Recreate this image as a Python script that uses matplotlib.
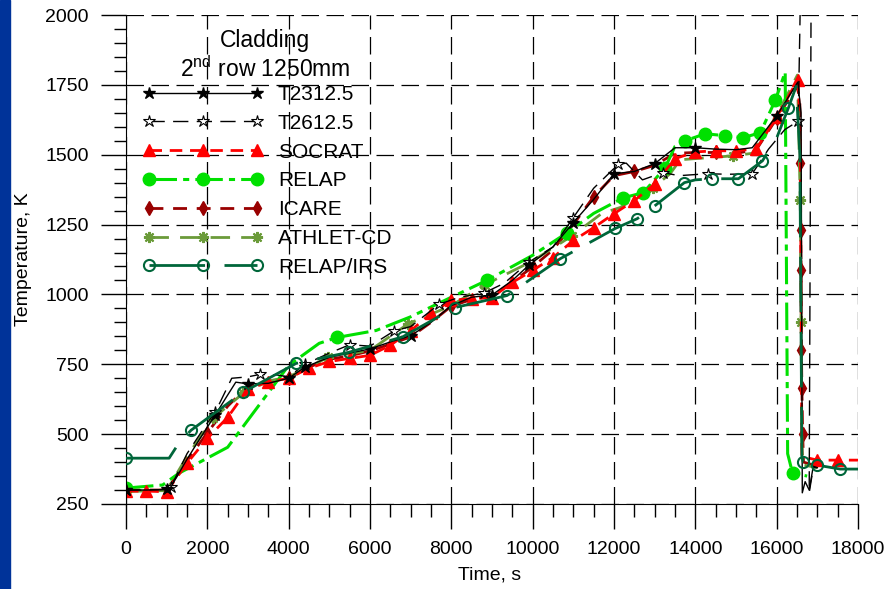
import matplotlib.pyplot as plt
from matplotlib.lines import Line2D
from matplotlib.patches import Rectangle
from matplotlib.ticker import MultipleLocator

plt.rcParams['font.family'] = ['Liberation Sans', 'DejaVu Sans']
plt.rcParams['mathtext.default'] = 'regular'

# ---- data (time in s, temperature in K) ----
t_t2312 = [0, 500, 1000, 1100, 1500, 1800, 2200, 2500, 2700, 3000, 3500, 4000, 4400, 5000, 5500,
           6000, 6500, 7000, 7500, 8000, 8500, 9000, 9500, 9900, 10500, 11000, 11500, 12000, 12500,
           13000, 13500, 14000, 14500, 15000, 15400, 16000, 16520, 16600, 16630, 16700, 16800,
           16900, 17000]
T_t2312 = [300, 300, 302, 310, 410, 480, 570, 640, 686, 680, 682, 700, 740, 775, 790,
           805, 830, 852, 900, 960, 990, 998, 1050, 1104, 1170, 1257, 1340, 1432, 1440,
           1468, 1525, 1525, 1520, 1518, 1525, 1639, 1760, 1650, 290, 330, 300,
           385, 380]
mk_t2312 = [0, 1000, 2200, 3000, 4000, 4400, 6000, 7000, 9000, 9900, 11000, 12000, 13000, 14000, 16000]

t_t2612 = [0, 500, 1000, 1100, 1500, 2000, 2200, 2600, 3000, 3300, 3700, 4000, 4400, 5000, 5500,
           6000, 6600, 7000, 7700, 8200, 8800, 9300, 9900, 10500, 11000, 11500, 12100, 12300,
           12700, 13200, 13600, 14300, 14800, 15400, 15800, 16200, 16530, 16600, 16850, 16800,
           16900, 17000]
T_t2612 = [300, 300, 302, 310, 430, 540, 580, 700, 705, 714, 712, 705, 750, 790, 820,
           815, 870, 885, 965, 990, 1005, 1040, 1115, 1170, 1275, 1380, 1465, 1470,
           1410, 1436, 1425, 1432, 1430, 1432, 1520, 1590, 1620, 2200, 2200, 290,
           380, 380]
mk_t2612 = [0, 1100, 2200, 3300, 4400, 5500, 6600, 7700, 8800, 9900, 11000, 12100, 13200, 14300,
            15400, 16530]

t_socrat = [0, 500, 1000, 1500, 2000, 2500, 3000, 3500, 4000, 4500, 5000, 5500, 6000, 6500, 7000,
            7500, 8000, 8500, 9000, 9500, 10000, 10500, 11000, 11500, 12000, 12500, 13000, 13500,
            14000, 14500, 15000, 15500, 16000, 16520, 16580, 16620, 17000, 17500, 18000]
T_socrat = [296, 296, 294, 396, 485, 560, 662, 687, 700, 736, 760, 771, 782, 818, 870,
            932, 979, 985, 989, 1043, 1086, 1132, 1193, 1239, 1289, 1336, 1395, 1486,
            1510, 1514, 1514, 1521, 1635, 1768, 1600, 420, 407, 407, 407]
mk_socrat = [0, 500, 1000, 1500, 2000, 2500, 3000, 3500, 4000, 4500, 5000, 5500, 6000, 6500, 7000,
             7500, 8000, 8500, 9000, 9500, 10000, 10500, 11000, 11500, 12000, 12500, 13000, 13500,
             14000, 14500, 15000, 15500, 16000, 16520, 17000, 17500]

t_relap = [0, 900, 1300, 2500, 4000, 4750, 5190, 6150, 7000, 8000, 8870, 10000, 10850, 11500,
           12230, 12720, 13260, 13500, 13750, 14240, 14740, 15180, 15600, 15970, 16210, 16270,
           16390, 16750]
T_relap = [307, 318, 360, 453, 746, 825, 846, 871, 920, 990, 1050, 1140, 1221, 1290,
           1346, 1364, 1454, 1530, 1550, 1575, 1568, 1561, 1579, 1696, 1796, 430,
           361, 350]
mk_relap = [0, 5190, 8870, 10850, 12230, 12720, 13260, 13750, 14240, 14740, 15180, 15600, 15970, 16390]

t_icare = [0, 500, 1000, 1500, 2000, 2500, 3000, 3500, 4000, 4500, 5000, 5500, 6000, 6500, 7000,
           7500, 8000, 8500, 9000, 9500, 10000, 10500, 11000, 11500, 12000, 12500, 13000, 13500,
           14000, 14500, 15000, 15500, 16000, 16500, 16570, 16580, 16590, 16600, 16610, 16620,
           16640, 16660, 17000]
T_icare = [300, 300, 300, 405, 505, 600, 672, 685, 700, 740, 768, 780, 798, 822, 848,
           900, 958, 982, 993, 1045, 1098, 1160, 1250, 1350, 1425, 1440, 1462, 1505,
           1508, 1508, 1505, 1518, 1630, 1745, 1700, 1471, 1229, 1086, 800, 664,
           500, 400, 385]
mk_icare = [0, 2000, 4000, 6000, 8000, 10000, 11500, 12500, 14500, 16000, 16580, 16590, 16600,
            16610, 16620, 16640]

t_athlet = [0, 1000, 1500, 2140, 2880, 3500, 4000, 4970, 6000, 6940, 8000, 8830, 10000, 10970,
            11700, 12150, 12960, 13380, 13630, 14930, 15400, 16000, 16510, 16580, 16600, 16620,
            16650, 17000]
T_athlet = [295, 298, 420, 557, 646, 690, 705, 775, 800, 895, 960, 1035, 1120, 1210,
            1290, 1311, 1382, 1432, 1482, 1496, 1505, 1640, 1785, 1339, 900, 460,
            390, 380]
mk_athlet = [0, 2140, 2880, 4970, 6940, 8830, 10970, 12960, 14930, 16580, 16600]

t_irs = [0, 1060, 1300, 1600, 2880, 4180, 5480, 6800, 8090, 9370, 10680, 12030, 12570, 13010,
         13730, 14000, 14420, 15060, 15650, 16000, 16290, 16480, 16570, 16620, 16650, 17000,
         17560, 18000]
T_irs = [414, 414, 468, 514, 650, 753, 793, 848, 953, 996, 1128, 1236, 1271, 1318,
         1400, 1410, 1414, 1414, 1478, 1560, 1668, 1745, 1500, 420, 400, 389,
         375, 375]
mk_irs = [0, 1600, 2880, 4180, 5480, 6800, 8090, 9370, 10680, 12030, 12570, 13010, 13730, 14420,
          15060, 15650, 16290, 16650, 17000, 17560]

labels = ['T2312.5', 'T2612.5', 'SOCRAT', 'RELAP', 'ICARE', 'ATHLET-CD', 'RELAP/IRS']

styles = [
    dict(color='k', lw=1.0, ls='-', marker='*', ms=9, mfc='k', mec='k'),
    dict(color='k', lw=1.0, ls=(0, (11, 6)), marker='*', ms=9, mfc='white', mec='k', mew=0.8),
    dict(color='#ff0000', lw=2.0, ls=(0, (4.5, 2.8)), marker='^', ms=8, mfc='#ff0000', mec='#ff0000'),
    dict(color='#00e000', lw=2.2, ls=(0, (9, 2, 2, 2)), marker='o', ms=9, mfc='#00e000', mec='#00e000'),
    dict(color='#990000', lw=2.0, ls=(0, (5, 3.5)), marker='d', ms=7, mfc='#990000', mec='#990000'),
    dict(color='#6b9b3a', lw=2.0, ls=(0, (7, 4)), marker=(8, 2, 0), ms=8, mfc='#6b9b3a',
         mec='#6b9b3a', mew=1.5),
    dict(color='#00663a', lw=2.0, ls=(0, (20, 7)), marker='o', ms=8, mfc='none', mec='#00663a',
         mew=1.5),
]
zorders = [2.6, 2.5, 2.4, 2.3, 2.0, 2.2, 2.7]

series = [
    (t_t2312, T_t2312, mk_t2312),
    (t_t2612, T_t2612, mk_t2612),
    (t_socrat, T_socrat, mk_socrat),
    (t_relap, T_relap, mk_relap),
    (t_icare, T_icare, mk_icare),
    (t_athlet, T_athlet, mk_athlet),
    (t_irs, T_irs, mk_irs),
]

fig = plt.figure(figsize=(8.88, 5.89), dpi=100)
fig.patches.append(Rectangle((0, 0), 10 / 888, 1, transform=fig.transFigure,
                             color='#003399', zorder=0))
ax = fig.add_axes([126 / 888, 1 - 504 / 589, 732 / 888, 489 / 589])

handles = []
for (t, T, mk), st, lab, z in zip(series, styles, labels, zorders):
    every = [t.index(m) for m in mk]
    ax.plot(t, T, markevery=every, zorder=z, **st)
    handles.append(Line2D([], [], **st))

ax.set_xlim(0, 18000)
ax.set_ylim(250, 2000)
ax.xaxis.set_major_locator(MultipleLocator(2000))
ax.xaxis.set_minor_locator(MultipleLocator(500))
ax.yaxis.set_major_locator(MultipleLocator(250))
ax.yaxis.set_minor_locator(MultipleLocator(50))

ax.grid(True, which='major', color='k', lw=0.9, ls=(0, (14, 6)))
ax.set_axisbelow(True)
for s in ['top', 'right']:
    ax.spines[s].set_visible(False)

ax.tick_params(which='major', direction='out', length=18, width=1, labelsize=14)
ax.tick_params(which='minor', direction='out', length=9, width=1)
ax.tick_params(axis='x', which='major', pad=9)
ax.tick_params(axis='y', which='major', pad=9)

ax.set_xlabel('Time, s', fontsize=14)
ax.set_ylabel('Temperature, K', fontsize=14)
ax.xaxis.set_label_coords(0.497, -0.127)
ax.yaxis.set_label_coords(-0.128, 0.5)

# legend title drawn as its own text so the gap to the entries can be set
ax.text(0.19, 0.917, 'Cladding\n2$^{nd}$ row 1250mm', transform=ax.transAxes,
        ha='center', va='center', multialignment='center', fontsize=16.5, linespacing=1.18)
ax.legend(handles, labels, loc='upper left', bbox_to_anchor=(0.023, 0.857),
          frameon=False, numpoints=3, handlelength=5.76, handletextpad=0.72,
          labelspacing=0.47, borderpad=0, borderaxespad=0, fontsize=15)

fig.savefig('out.png', dpi=100)
